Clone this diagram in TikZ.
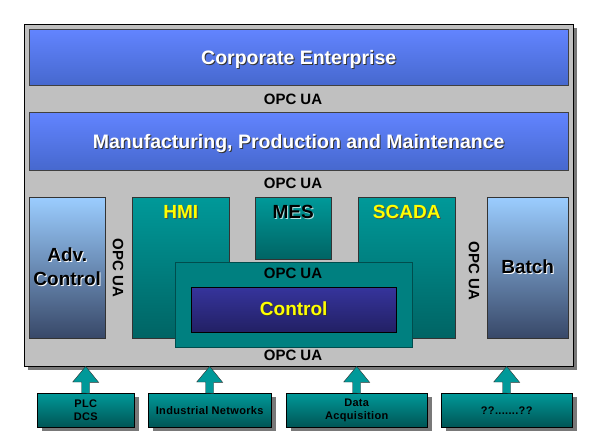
\documentclass[tikz,border=0pt]{standalone}
\usepackage{fontspec}
\setmainfont{Liberation Sans}
\usepackage{xcolor}
\usepackage{tikz}
\usetikzlibrary{positioning, shadows}

\definecolor{framegray}{RGB}{192,192,192}
\definecolor{shadowgray}{RGB}{120,120,120}
\definecolor{layertop}{RGB}{98,132,255}
\definecolor{layerbot}{RGB}{70,104,206}
\definecolor{tealtop}{RGB}{0,153,153}
\definecolor{tealbot}{RGB}{0,100,100}
\definecolor{tealflat}{RGB}{0,128,128}
\definecolor{navytop}{RGB}{54,52,156}
\definecolor{navybot}{RGB}{34,32,100}
\definecolor{skytop}{RGB}{155,205,255}
\definecolor{skybot}{RGB}{56,72,104}
\definecolor{ctrlyellow}{RGB}{255,255,0}

\newcommand{\shadowtext}[3]{\makebox[0pt][l]{\kern1pt\raisebox{-1pt}{\textcolor{#2}{#3}}}\textcolor{#1}{#3}}

\begin{document}
\begin{tikzpicture}[x=1pt, y=-1pt,
frame/.style={rectangle, draw=black, fill=framegray, anchor=north west, inner sep=0pt, drop shadow={shadow xshift=4pt, shadow yshift=-4pt, fill=shadowgray, opacity=1}},
layer/.style={rectangle, draw=black!75, top color=layertop, bottom color=layerbot, anchor=north west, inner sep=0pt, minimum width=539, text depth=0pt, font=\fontsize{19.5}{21}\selectfont\bfseries},
module/.style={rectangle, draw=black!80, top color=tealtop, bottom color=tealbot, anchor=north west, inner sep=0pt},
sidebox/.style={rectangle, draw=black!80, top color=skytop, bottom color=skybot, anchor=north west, inner sep=0pt, minimum width=#1, minimum height=141, align=center, font=\fontsize{19}{24}\selectfont\bfseries},
opc/.style={font=\fontsize{15}{17}\selectfont\bfseries, inner sep=0pt},
headtext/.style={font=\fontsize{19}{21}\selectfont\bfseries, inner sep=0pt},
field/.style={rectangle, draw=black, top color=tealtop, bottom color=tealbot!110, anchor=north west, inner sep=0pt, minimum height=34, align=center, font=\fontsize{11}{13.5}\selectfont\bfseries\addfontfeature{LetterSpace=3}, drop shadow={shadow xshift=5pt, shadow yshift=-4pt, fill=shadowgray, opacity=1}},
uparrow/.style={draw=black!80, fill=tealtop, line join=miter}
]
	\useasboundingbox (0,0) rectangle (589,442);

	\node[frame, minimum width=549, minimum height=342] (frame) at (24,24) {};
	\node[layer, minimum height=56] (corp) at (29,29) {\shadowtext{white}{black!80}{Corporate Enterprise}};
	\node[layer, minimum height=58] (mfg) at (29,112) {\shadowtext{white}{black!80}{Manufacturing, Production and Maintenance}};
	\node[opc] (opc1) at (293,99) {OPC UA};
	\node[opc] (opc2) at (293,183) {OPC UA};

	\node[sidebox=76] (adv) at (29,197) {\shadowtext{black}{white}{Adv.}\\\shadowtext{black}{white}{Control}};
	\node[module, minimum width=97, minimum height=141] (hmi) at (132,197) {};
	\node[module, minimum width=76, minimum height=62] (mes) at (255,197) {};
	\node[module, minimum width=97, minimum height=141] (scada) at (358,197) {};
	\node[sidebox=81] (batch) at (487,197) {\shadowtext{black}{white}{Batch}};
	\node[headtext] (hmitext) at ([yshift=-15pt]hmi.north) {\shadowtext{ctrlyellow}{black!70}{HMI}};
	\node[headtext] (mestext) at ([yshift=-15pt]mes.north) {\shadowtext{black}{white!70!tealtop}{MES}};
	\node[headtext] (scadatext) at ([yshift=-15pt]scada.north) {\shadowtext{ctrlyellow}{black!70}{SCADA}};
	\node[opc, rotate=-90] (opc3) at (118,268) {OPC UA};
	\node[opc, rotate=-90] (opc4) at (474,271) {OPC UA};

	\node[rectangle, draw=tealflat!60!black, fill=tealflat, anchor=north west, inner sep=0pt, minimum width=237, minimum height=85] (ctrlbox) at (175,262) {};
	\node[opc] (opc5) at (293,273) {OPC UA};
	\node[rectangle, draw=black, top color=navytop, bottom color=navybot, anchor=north west, inner sep=0pt, minimum width=205, minimum height=45, font=\fontsize{19}{21}\selectfont\bfseries] (ctrl) at (191,287) {\shadowtext{ctrlyellow}{black!80}{Control}};
	\node[opc] (opc6) at (293,355) {OPC UA};

	\node[field, minimum width=97] (plc) at (37,393) {PLC\\DCS};
	\node[field, minimum width=123] (net) at (148,393) {Industrial Networks};
	\node[field, minimum width=141] (daq) at (286,393) {Data\\Acquisition};
	\node[field, minimum width=131] (misc) at (441,393) {??.......??};

	\foreach \n in {plc,net,daq,misc}
		\draw[uparrow] ([xshift=-4pt]\n.north) -- ++(0,-11) -- ++(-9,0) -- (\n.north |- frame.south) -- ++(13,16) -- ++(-9,0) -- ++(0,11) -- cycle;
\end{tikzpicture}
\end{document}
